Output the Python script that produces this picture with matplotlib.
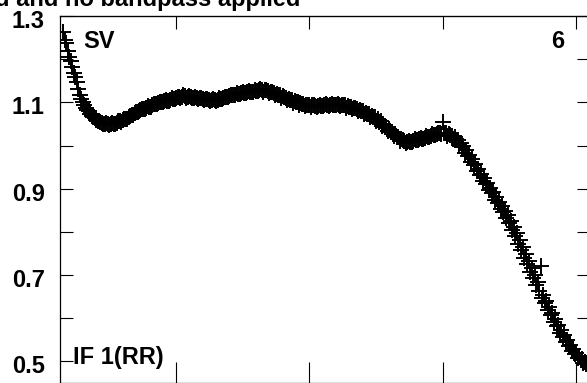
import matplotlib
matplotlib.use('Agg')
import matplotlib.pyplot as plt
import matplotlib.transforms as mtransforms
from matplotlib.ticker import FixedLocator, NullFormatter

plt.rcParams['font.family'] = ['Liberation Sans', 'DejaVu Sans']

# channel numbers and amplitudes (whole channels)
channels = list(range(7, 185))
amps = [
    1.262, 1.238, 1.205, 1.182, 1.158, 1.131, 1.108, 1.094, 1.083, 1.072,
    1.065, 1.060, 1.056, 1.052, 1.051, 1.049, 1.050, 1.051, 1.053, 1.056,
    1.058, 1.062, 1.066, 1.070, 1.075, 1.078, 1.082, 1.085, 1.088, 1.090,
    1.093, 1.096, 1.098, 1.100, 1.102, 1.104, 1.106, 1.108, 1.110, 1.112,
    1.113, 1.114, 1.113, 1.112, 1.111, 1.110, 1.109, 1.108, 1.107, 1.106,
    1.105, 1.105, 1.106, 1.108, 1.110, 1.112, 1.114, 1.116, 1.118, 1.120,
    1.121, 1.122, 1.123, 1.124, 1.125, 1.127, 1.128, 1.128, 1.128, 1.126,
    1.124, 1.122, 1.119, 1.117, 1.114, 1.111, 1.108, 1.105, 1.103, 1.100,
    1.098, 1.096, 1.094, 1.093, 1.093, 1.092, 1.092, 1.092, 1.093, 1.093,
    1.094, 1.094, 1.095, 1.095, 1.095, 1.094, 1.091, 1.089, 1.087, 1.085,
    1.082, 1.079, 1.076, 1.073, 1.069, 1.066, 1.062, 1.056, 1.050, 1.044,
    1.038, 1.032, 1.026, 1.020, 1.015, 1.011, 1.008, 1.009, 1.010, 1.012,
    1.014, 1.016, 1.018, 1.020, 1.022, 1.024, 1.026, 1.028, 1.054, 1.028,
    1.026, 1.023, 1.019, 1.013, 1.006, 0.998, 0.989, 0.979, 0.968, 0.957,
    0.946, 0.935, 0.924, 0.913, 0.902, 0.892, 0.881, 0.870, 0.860, 0.849,
    0.838, 0.826, 0.812, 0.797, 0.781, 0.765, 0.748, 0.732, 0.716, 0.700,
    0.684, 0.722, 0.654, 0.640, 0.626, 0.612, 0.598, 0.585, 0.573, 0.561,
    0.550, 0.539, 0.529, 0.520, 0.512, 0.505, 0.499, 0.494,
]

# half channels
half_channels = [c + 0.5 for c in range(7, 184)]
half_amps = [
    1.244, 1.220, 1.196, 1.168, 1.146, 1.118, 1.101, 1.086, 1.079, 1.068,
    1.064, 1.057, 1.055, 1.049, 1.053, 1.047, 1.052, 1.049, 1.056, 1.055,
    1.062, 1.062, 1.069, 1.071, 1.078, 1.079, 1.085, 1.085, 1.091, 1.090,
    1.096, 1.096, 1.101, 1.100, 1.105, 1.104, 1.109, 1.108, 1.113, 1.111,
    1.116, 1.111, 1.114, 1.109, 1.112, 1.107, 1.110, 1.105, 1.108, 1.103,
    1.107, 1.104, 1.109, 1.108, 1.113, 1.112, 1.117, 1.116, 1.121, 1.119,
    1.124, 1.121, 1.126, 1.123, 1.129, 1.126, 1.131, 1.125, 1.128, 1.121,
    1.123, 1.116, 1.118, 1.111, 1.113, 1.105, 1.106, 1.099, 1.101, 1.095,
    1.097, 1.091, 1.095, 1.090, 1.094, 1.090, 1.094, 1.091, 1.096, 1.092,
    1.097, 1.093, 1.097, 1.092, 1.094, 1.088, 1.090, 1.084, 1.086, 1.079,
    1.080, 1.072, 1.074, 1.065, 1.067, 1.057, 1.055, 1.045, 1.043, 1.033,
    1.031, 1.021, 1.020, 1.011, 1.012, 1.006, 1.011, 1.008, 1.014, 1.012,
    1.018, 1.016, 1.022, 1.020, 1.026, 1.024, 1.029, 1.026, 1.030, 1.023,
    1.024, 1.015, 1.012, 1.001, 0.996, 0.983, 0.976, 0.962, 0.954, 0.940,
    0.932, 0.918, 0.910, 0.896, 0.889, 0.875, 0.867, 0.854, 0.846, 0.831,
    0.821, 0.804, 0.791, 0.772, 0.759, 0.739, 0.726, 0.707, 0.694, 0.676,
    0.664, 0.646, 0.635, 0.619, 0.607, 0.591, 0.581, 0.566, 0.557, 0.544,
    0.536, 0.524, 0.518, 0.508, 0.504, 0.496, 0.494,
]

ytick_major = [0.5, 0.7, 0.9, 1.1, 1.3]
ytick_minor = [0.6, 0.8, 1.0, 1.2]
xtick_pos = [45, 90, 135, 180]

fig = plt.figure(figsize=(5.87, 3.83), dpi=100)
ax = fig.add_axes([60 / 587, 0.0, 530 / 587, 367 / 383])

ax.plot(channels + half_channels, amps + half_amps, linestyle='none',
        marker='+', color='black', markersize=12, markeredgewidth=1.4)

ax.set_xlim(5.84, 184.7)
ax.set_ylim(0.45, 1.3)

ax.yaxis.set_major_locator(FixedLocator(ytick_major))
ax.yaxis.set_minor_locator(FixedLocator(ytick_minor))
ax.set_yticklabels(['%.1f' % v for v in ytick_major])
ax.tick_params(axis='y', which='both', direction='in', length=9.4, width=0.8,
               left=True, right=True, labelsize=17, pad=11)
shift = mtransforms.ScaledTranslation(0, -3 / 100, fig.dpi_scale_trans)
for lab in ax.get_yticklabels():
    lab.set_fontweight('bold')
    lab.set_transform(lab.get_transform() + shift)

ax.xaxis.set_major_locator(FixedLocator(xtick_pos))
ax.xaxis.set_major_formatter(NullFormatter())
ax.tick_params(axis='x', which='both', direction='in', length=15, width=0.8,
               bottom=True, top=False)
top = ax.secondary_xaxis('top')
top.xaxis.set_major_locator(FixedLocator(xtick_pos))
top.xaxis.set_major_formatter(NullFormatter())
top.tick_params(axis='x', direction='in', length=9.4, width=0.8)

for s in ax.spines.values():
    s.set_linewidth(0.9)

fig.text(83 / 587, 1 - 48 / 383, 'SV',
         fontsize=17, fontweight='bold', ha='left', va='baseline')
fig.text(564 / 587, 1 - 48 / 383, '6',
         fontsize=17, fontweight='bold', ha='right', va='baseline')
fig.text(73 / 587, 1 - 364 / 383, 'IF 1(RR)',
         fontsize=17, fontweight='bold', ha='left', va='baseline')

fig.text(300 / 587, 1 - 6 / 383, 'd and no bandpass applied',
         fontsize=17, fontweight='bold', ha='right', va='baseline')

fig.savefig('out.png', dpi=100)
